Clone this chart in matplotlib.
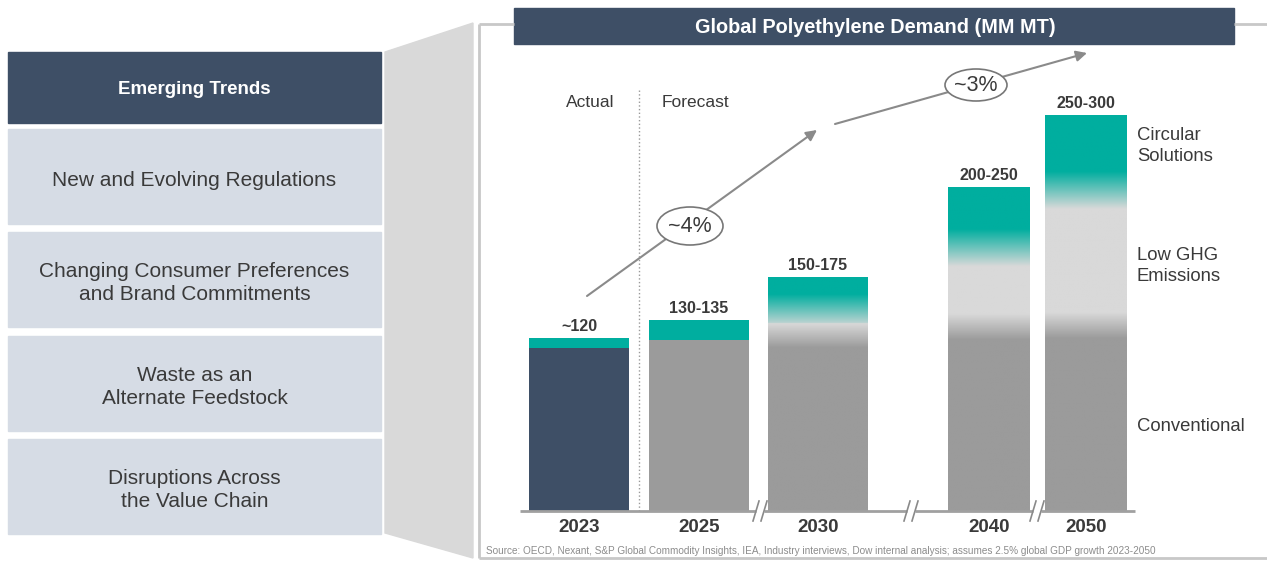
import numpy as np
import matplotlib.pyplot as plt
from matplotlib.patches import Rectangle, Polygon, Ellipse, FancyArrowPatch
from matplotlib.colors import to_rgb

plt.rcParams['font.family'] = ['Liberation Sans', 'DejaVu Sans']

# Global polyethylene demand (MM MT)
years = ['2023', '2025', '2030', '2040', '2050']
demand_low = [120, 130, 150, 200, 250]
demand_high = [120, 135, 175, 250, 300]
range_labels = ['~120', '130-135', '150-175', '200-250', '250-300']
conventional = [113, 119, 122, 128, 129]
low_ghg = [0, 0, 17, 55, 94]

trends = ['New and Evolving Regulations',
          'Changing Consumer Preferences\nand Brand Commitments',
          'Waste as an\nAlternate Feedstock',
          'Disruptions Across\nthe Value Chain']
growth_labels = ['~4%', '~3%']
segment_names = ['Circular\nSolutions', 'Low GHG\nEmissions', 'Conventional']
source = ('Source: OECD, Nexant, S&P Global Commodity Insights, IEA, Industry interviews, '
          'Dow internal analysis; assumes 2.5% global GDP growth 2023-2050')

total = (np.array(demand_low) + np.array(demand_high)) / 2
circular = total - np.array(conventional) - np.array(low_ghg)

NAVY = '#3e4f66'
PANEL = '#d6dce5'
TEAL = '#00ae9f'
GRAY = '#9b9b9b'
LIGHT = '#d9d9d9'
TEXT = '#3a3a3a'
LINE = '#8a8a8a'

W, H = 1267, 561
fig = plt.figure(figsize=(W / 100, H / 100), dpi=100)

# background layer in pixel coordinates
bg = fig.add_axes([0, 0, 1, 1])
bg.set_xlim(0, W)
bg.set_ylim(H, 0)
bg.axis('off')

bg.add_patch(Rectangle((8, 52), 373, 71, color=NAVY))
bg.text(194.5, 89, 'Emerging Trends', ha='center', va='center', color='white',
        fontsize=13.5, fontweight='bold')
for top, label in zip([129, 232, 336, 439], trends):
    bg.add_patch(Rectangle((8, top), 373, 95, color=PANEL))
    bg.text(194.5, top + 51, label, ha='center', va='center', color=TEXT,
            fontsize=15, linespacing=1.32)

bg.add_patch(Polygon([(385, 52), (473, 23), (473, 558), (385, 533)], color='#d9d9d9'))

frame_kw = dict(color='#c8c8c8', lw=2, solid_capstyle='butt')
bg.plot([479, 479], [24, 558], **frame_kw)
bg.plot([479, 514], [24, 24], **frame_kw)
bg.plot([1234, W], [24, 24], **frame_kw)
bg.plot([479, W], [558, 558], **frame_kw)

bg.add_patch(Rectangle((514, 8), 720, 36, color=NAVY))
bg.text(875, 27, 'Global Polyethylene Demand (MM MT)', ha='center', va='center',
        color='white', fontsize=14.3, fontweight='bold')

bg.text(590, 102, 'Actual', ha='center', va='center', color=TEXT, fontsize=12.5)
bg.text(695, 102, 'Forecast', ha='center', va='center', color=TEXT, fontsize=12.5)

# growth arrows with rate callouts
for (p0, p1), (cx, cy, ew, eh), txt in zip(
        [((587, 296), (817, 130)), ((835, 124), (1087, 53))],
        [(690, 226, 66, 38), (976, 85, 62, 32)], growth_labels):
    bg.add_patch(FancyArrowPatch(p0, p1, arrowstyle='-|>', mutation_scale=16,
                                 color=LINE, lw=1.5, shrinkA=0, shrinkB=0))
    bg.add_patch(Ellipse((cx, cy), ew, eh, fc='white', ec='#777777', lw=1.2, zorder=3))
    bg.text(cx, cy, txt, ha='center', va='center', color=TEXT, fontsize=15.5, zorder=4)

for y, name in zip([146, 266, 426], segment_names):
    bg.text(1137, y, name, ha='left', va='center', color=TEXT, fontsize=13.3,
            linespacing=1.3)

bg.text(486, 551, source, ha='left', va='center', color='#8c8c8c', fontsize=7.2)

# chart layer: x in pixels, y in MM MT
base_y, scale = 511, 1.44
ax = fig.add_axes([479 / W, (H - base_y) / H, (W - 479) / W, (base_y - 24) / H])
ax.set_facecolor('none')
for s in ax.spines.values():
    s.set_visible(False)
ax.set_yticks([])

bar_x = [579, 699, 818, 989, 1086]
bar_w = [100, 100, 100, 82, 82]

ax.set_xticks(bar_x, years)
ax.tick_params(axis='x', length=0, pad=6, labelsize=13.5, labelcolor=TEXT)
for t in ax.get_xticklabels():
    t.set_fontweight('bold')

stop_cols = np.array([to_rgb(c) for c in [GRAY, GRAY, LIGHT, LIGHT, TEAL, TEAL]])
for i, (x, w) in enumerate(zip(bar_x, bar_w)):
    conv, low, circ, tot = conventional[i], low_ghg[i], circular[i], total[i]
    if low == 0:
        ax.bar(x, conv, w, color=NAVY if i == 0 else GRAY, zorder=2)
        ax.bar(x, circ, w, bottom=conv, color=TEAL, zorder=2)
    else:
        rect = ax.bar(x, tot, w, color=GRAY, zorder=2)[0]
        b_lo = min(9, low / 2)
        b_hi = min(13, circ / 2)
        stops = [0, conv - b_lo, conv + b_lo, conv + low - b_hi, conv + low + b_hi, tot]
        yy = np.linspace(0, tot, 600)
        rgb = np.stack([np.interp(yy, stops, stop_cols[:, k]) for k in range(3)], axis=-1)
        im = ax.imshow(rgb[:, None, :], extent=[x - w / 2, x + w / 2, 0, tot],
                       origin='lower', aspect='auto', interpolation='bilinear', zorder=3)
        im.set_clip_path(rect)
    ax.annotate(range_labels[i], (x, tot), xytext=(0, 3), textcoords='offset points',
                ha='center', va='bottom', fontsize=11.5, fontweight='bold', color=TEXT)

ax.set_xlim(479, W)
ax.set_ylim(0, (base_y - 24) / scale)

# actual / forecast divider
div_x = (bar_x[0] + bar_x[1]) / 2
ax.plot([div_x, div_x], [0, (base_y - 88) / scale], ls=':', color='#999999', lw=1, zorder=1)

# broken baseline
breaks = [760, 911, 1037]
edges = [520] + [v for bx in breaks for v in (bx - 4, bx + 4)] + [1135]
for a, b2 in zip(edges[0::2], edges[1::2]):
    ax.plot([a, b2], [0, 0], color='#a0a0a0', lw=2, clip_on=False, zorder=4,
            solid_capstyle='butt')
dy = 10 / scale
for bx in breaks:
    for off in (-4, 4):
        ax.plot([bx + off - 3, bx + off + 3], [-dy, dy], color='#8a8a8a', lw=1.2,
                clip_on=False, zorder=5)

fig.savefig('out.png', dpi=100)
